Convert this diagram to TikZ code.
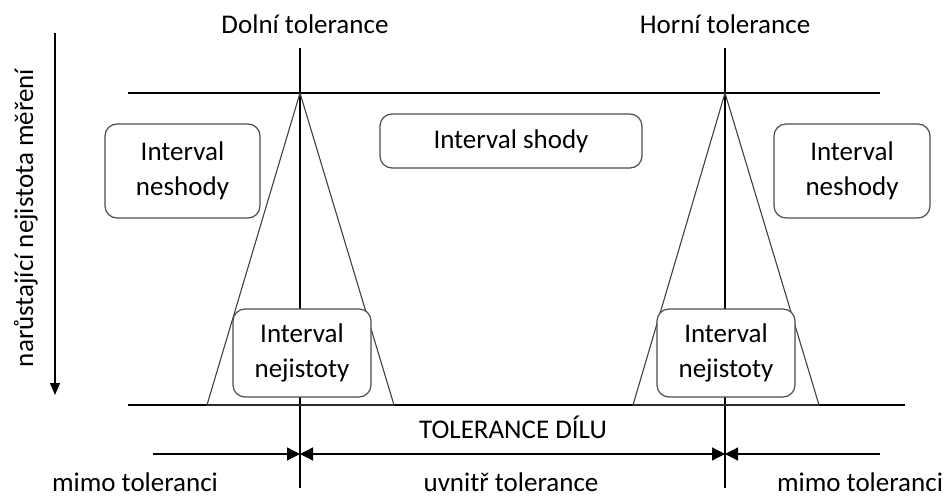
\documentclass[tikz,border=0pt]{standalone}
\usepackage{fontspec}
\setmainfont{Carlito}
\usetikzlibrary{arrows.meta}
\begin{document}
\begin{tikzpicture}[x=1pt,y=-1pt,
  lbl/.style={font=\fontsize{27}{32}\selectfont, inner sep=0, anchor=base},
  box/.style={draw=black!70, line width=1.2pt, rounded corners=12pt, fill=white, align=center,
              font=\fontsize{27}{35}\selectfont, inner sep=0},
  ln/.style={line width=1.3pt},
  tri/.style={draw=black!75, line width=1.1pt},
  tip/.style={-{Triangle[length=13pt,width=13pt]}}]
\useasboundingbox (0,0) rectangle (947,498);
% coordinates
\coordinate (ltop) at (300,48);  \coordinate (lbot) at (300,488);
\coordinate (rtop) at (725,48);  \coordinate (rbot) at (725,488);
\coordinate (hl1) at (128,93);   \coordinate (hr1) at (880,93);
\coordinate (hl2) at (128,405);  \coordinate (hr2) at (905,405);
\coordinate (la) at (300,93);    \coordinate (lb1) at (207,405); \coordinate (lb2) at (394,405);
\coordinate (ra) at (725,93);    \coordinate (rb1) at (633,405); \coordinate (rb2) at (819,405);
\coordinate (ax1) at (55,33);    \coordinate (ax2) at (55,395);
\coordinate (a1) at (153,454);   \coordinate (a2) at (300,454);
\coordinate (a3) at (725,454);   \coordinate (a4) at (880,454);
% lines
\draw[ln] (hl1) -- (hr1);
\draw[ln] (hl2) -- (hr2);
\draw[ln] (ltop) -- (lbot);
\draw[ln] (rtop) -- (rbot);
\draw[tri] (lb1) -- (la) -- (lb2) -- cycle;
\draw[tri] (rb1) -- (ra) -- (rb2) -- cycle;
\draw[ln,-{Triangle[length=12pt,width=10pt]}] (ax1) -- (ax2);
\draw[ln,tip] (a1) -- (a2);
\draw[ln,{Triangle[length=13pt,width=13pt]}-{Triangle[length=13pt,width=13pt]}] (a2) -- (a3);
\draw[ln,tip] (a4) -- (a3);
% boxes
\node[box, minimum width=155pt, minimum height=94pt] (nl) at (182.5,171) {Interval\\neshody};
\node[box, minimum width=262pt, minimum height=54pt] (sh) at (511,141) {Interval shody};
\node[box, minimum width=156pt, minimum height=94pt] (nr) at (852,171) {Interval\\neshody};
\node[box, minimum width=138pt, minimum height=88pt] (jl) at (302,353) {Interval\\nejistoty};
\node[box, minimum width=138pt, minimum height=88pt] (jr) at (726,353) {Interval\\nejistoty};
% labels
\node[lbl] (dl) at (305,33) {Dolní tolerance};
\node[lbl] (hl) at (725,33) {Horní tolerance};
\node[lbl] (td) at (513,438) {TOLERANCE DÍLU};
\node[lbl] (m1) at (135,491) {mimo toleranci};
\node[lbl] (uv) at (511,491) {uvnitř tolerance};
\node[lbl] (m2) at (860,491) {mimo toleranci};
\node[lbl, rotate=90] (ax) at (33,218) {narůstající nejistota měření};
\end{tikzpicture}
\end{document}
